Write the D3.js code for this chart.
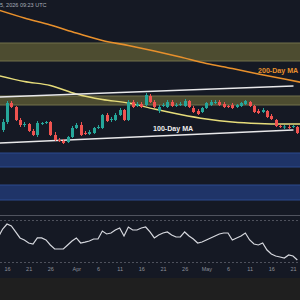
<!DOCTYPE html>
<html><head><meta charset="utf-8">
<script src="https://cdn.jsdelivr.net/npm/d3@7"></script>
<style>html,body{margin:0;padding:0;background:#151924;overflow:hidden}svg{display:block}</style>
</head><body><svg id="c" width="300" height="300"></svg>
<script>
// ---------- DATA ----------
const firstCandleDate = "2026-03-15";
const opens = [77000,77800,79700,79300,78000,77500,77600,76900,76500,77600,
77700,77800,76500,76000,75900,75800,76300,77200,77500,76700,
76600,76700,77200,77200,78500,78000,78000,78500,79000,78000,
79800,79400,79600,79500,80400,79800,78900,79400,79300,79800,
79400,79500,79400,79900,79200,78900,78800,79200,79500,79700,
79800,79600,79400,79500,79300,79400,79600,79800,79400,78900,
78800,78900,78400,78000,77400,77250,77300,77300,77300];
const highs = [78100,79900,79900,79400,78200,77800,77700,77100,77900,77800,
77900,77900,76800,76200,76100,76400,77400,77700,77800,76900,
77000,77300,77500,78600,78700,78300,78700,79200,79100,80000,
80000,79800,79800,80700,80600,80000,79500,79700,80000,80000,
79700,79800,80100,80000,79400,79100,79300,79800,80000,80000,
80000,79800,79500,79700,79600,79800,80000,79900,79500,79100,
79200,79000,78600,78100,77500,77500,77500,77500,77400];
const lows = [76800,77600,79200,77900,77300,77300,76800,76400,76300,77500,
77600,76400,75900,75800,75600,75700,76200,77100,76400,76500,
76500,76600,77100,77100,77800,77800,77900,78400,77900,77900,
79200,79300,79200,79400,79700,79200,78700,79300,79200,79300,
79300,79400,79300,79200,78700,78500,78700,79100,79400,79600,
79400,79200,79200,79100,79200,79300,79500,79300,78700,78600,
78700,78200,78000,77300,77200,77100,77100,77200,76600];
const closes = [77800,79700,79300,78000,77500,77600,76900,76500,77700,77700,
77800,76500,76000,75950,75700,76300,77200,77500,76500,76600,
76800,77200,77300,78500,77900,78100,78500,79000,78000,79800,
79300,79600,79300,80500,79800,79300,79300,79500,79800,79400,
79500,79600,79900,79300,78800,78600,79200,79700,79800,79800,
79500,79300,79300,79200,79500,79700,79900,79400,78800,78700,
79000,78300,78100,77400,77300,77350,77250,77400,76700];

const maDates = ["2026-03-14","2026-03-20","2026-03-26","2026-04-01","2026-04-07","2026-04-13","2026-04-19","2026-04-25","2026-05-01","2026-05-07","2026-05-13","2026-05-19","2026-05-23"];
const ma200 = [89000,88200,87500,86700,85950,85450,84900,84300,83650,83150,82600,82100,81750];
const ma100 = [82450,81850,81450,80600,80050,79700,79100,78550,78100,77800,77650,77600,77600];

const rsiStartDate = "2026-03-14";
const rsi = [53.8,61.4,66.2,64.3,58.6,52.9,51.0,48.1,47.1,52.9,52.9,
51.0,46.2,42.4,42.4,42.4,46.2,50.0,52.9,48.1,49.0,
50.0,51.9,51.9,59.5,56.7,57.6,60.5,62.4,54.8,63.3,
60.5,60.5,62.4,63.3,58.6,52.9,55.7,57.6,58.6,55.7,
53.8,53.8,58.6,54.8,51.9,48.1,49.0,51.0,52.9,54.8,
56.7,57.6,57.6,51.0,52.9,54.8,57.6,51.0,47.1,46.2,
48.1,41.4,37.6,35.7,34.8,33.8,36.7,35.7,31.9];
const rsiLevels = [70, 30];

const supplyZones = [[83900, 85700], [79500, 80400]];
const demandZones = [[73300, 74700], [70000, 71500]];
const trendLines = [
  [["2026-03-14", 80300], ["2026-05-21", 81400]],
  [["2026-03-14", 75700], ["2026-05-21", 77000]]
];

const tickDates = ["2026-03-16","2026-03-21","2026-03-26","2026-04-01","2026-04-06","2026-04-11","2026-04-16","2026-04-21","2026-04-26","2026-05-01","2026-05-06","2026-05-11","2026-05-16","2026-05-21"];
const tickLabels = ["16","21","26","Apr","6","11","16","21","26","May","6","11","16","21"];
const headerText = "5, 2026 09:23 UTC";
const ma200Label = "200-Day MA";
const ma100Label = "100-Day MA";

// ---------- CHART ----------
const W = 300, H = 300;
const svg = d3.select("#c");
const P = d3.utcParse("%Y-%m-%d");
const x = d3.scaleUtc().domain([P("2026-03-16"), P("2026-05-21")]).range([7, 293]);
const y = d3.scaleLinear().domain([68500, 90000]).range([215, 0]);
const yr = d3.scaleLinear().domain([30, 70]).range([262, 220]);

svg.append("rect").attr("width", W).attr("height", H).attr("fill", "#151924");

const defs = svg.append("defs");
defs.append("clipPath").attr("id", "main").append("rect").attr("x",0).attr("y",0).attr("width",W).attr("height",215);
defs.append("clipPath").attr("id", "rsi").append("rect").attr("x",0).attr("y",216).attr("width",W).attr("height",50);

const main = svg.append("g").attr("clip-path", "url(#main)");

// zones
function zone(z, fill, edge) {
  const g = main.append("g");
  g.append("rect").attr("x", 0).attr("width", W)
    .attr("y", y(z[1])).attr("height", y(z[0]) - y(z[1])).attr("fill", fill);
  [z[0], z[1]].forEach(v => g.append("line").attr("x1",0).attr("x2",W)
    .attr("y1", y(v)).attr("y2", y(v)).attr("stroke", edge).attr("stroke-width", 1));
}
supplyZones.forEach(z => zone(z, "#4d4c30", "#72704a"));
demandZones.forEach(z => zone(z, "#1f3468", "#2d4b8e"));

// moving averages
const maLine = d3.line().x(d => x(d[0])).y(d => y(d[1])).curve(d3.curveMonotoneX);
main.append("path").datum(maDates.map((d,i) => [P(d), ma200[i]]))
  .attr("d", maLine).attr("fill","none").attr("stroke","#e8902c").attr("stroke-width",1.6);
main.append("path").datum(maDates.map((d,i) => [P(d), ma100[i]]))
  .attr("d", maLine).attr("fill","none").attr("stroke","#e6dc7a").attr("stroke-width",1.4);

// trend lines
trendLines.forEach(t => {
  main.append("line")
    .attr("x1", x(P(t[0][0]))).attr("y1", y(t[0][1]))
    .attr("x2", x(P(t[1][0]))).attr("y2", y(t[1][1]))
    .attr("stroke", "#e8e8ea").attr("stroke-width", 1.4).attr("stroke-linecap","round");
});

// candles
const d0 = P(firstCandleDate);
const candles = opens.map((o, i) => ({date: d3.utcDay.offset(d0, i), o, h: highs[i], l: lows[i], c: closes[i]}));
const bw = 3;
const cg = main.append("g").selectAll("g").data(candles).join("g");
const col = d => d.c >= d.o ? "#26a69a" : "#ef5350";
cg.append("line")
  .attr("x1", d => Math.round(x(d.date)) + 0.5).attr("x2", d => Math.round(x(d.date)) + 0.5)
  .attr("y1", d => y(d.h)).attr("y2", d => y(d.l)).attr("stroke", col).attr("stroke-width", 1);
cg.append("rect")
  .attr("x", d => Math.round(x(d.date)) - 1).attr("width", bw)
  .attr("y", d => y(Math.max(d.o, d.c)))
  .attr("height", d => Math.max(1, Math.abs(y(d.o) - y(d.c))))
  .attr("fill", col);

// labels
main.append("text").attr("x", 258).attr("y", 72.5).text(ma200Label)
  .attr("fill", "#e8902c").attr("font-family", "Liberation Sans, Arial, sans-serif")
  .attr("font-weight", "bold").attr("font-size", 7.1);
main.append("text").attr("x", 153).attr("y", 131).text(ma100Label)
  .attr("fill", "#eeeeee").attr("font-family", "Liberation Sans, Arial, sans-serif")
  .attr("font-weight", "bold").attr("font-size", 7.1);

// header
svg.append("text").attr("x", 0).attr("y", 7.3).text(headerText)
  .attr("fill", "#a9adb8").attr("font-family", "Liberation Sans, Arial, sans-serif").attr("font-size", 5.5);

// RSI pane
svg.append("line").attr("x1",0).attr("x2",W).attr("y1",215.5).attr("y2",215.5).attr("stroke","#50535e").attr("stroke-width",1);
const rg = svg.append("g").attr("clip-path", "url(#rsi)");
rsiLevels.forEach(v => rg.append("line").attr("x1",0).attr("x2",W).attr("y1",Math.round(yr(v))+0.5).attr("y2",Math.round(yr(v))+0.5)
  .attr("stroke","#5d606b").attr("stroke-width",0.8).attr("stroke-dasharray","2,2"));
const r0 = P(rsiStartDate);
rg.append("path").datum(rsi.map((v,i) => [d3.utcDay.offset(r0, i), v]))
  .attr("d", d3.line().x(d => x(d[0])).y(d => yr(d[1])))
  .attr("fill","none").attr("stroke","#d6d8de").attr("stroke-width",1.2);

// x axis
const ax = svg.append("g").attr("transform", "translate(0,268)")
  .call(d3.axisBottom(x).tickValues(tickDates.map(P)).tickSize(0).tickFormat((d,i) => tickLabels[i]));
ax.select(".domain").remove();
ax.selectAll("text").attr("y", 0).attr("dy", "0.5em")
  .attr("fill", "#8c909b").attr("font-family", "Liberation Sans, Arial, sans-serif").attr("font-size", 5.5);

// footer
svg.append("rect").attr("x",0).attr("y",278).attr("width",W).attr("height",22).attr("fill","#1f1f1f");
</script>
</body></html>
